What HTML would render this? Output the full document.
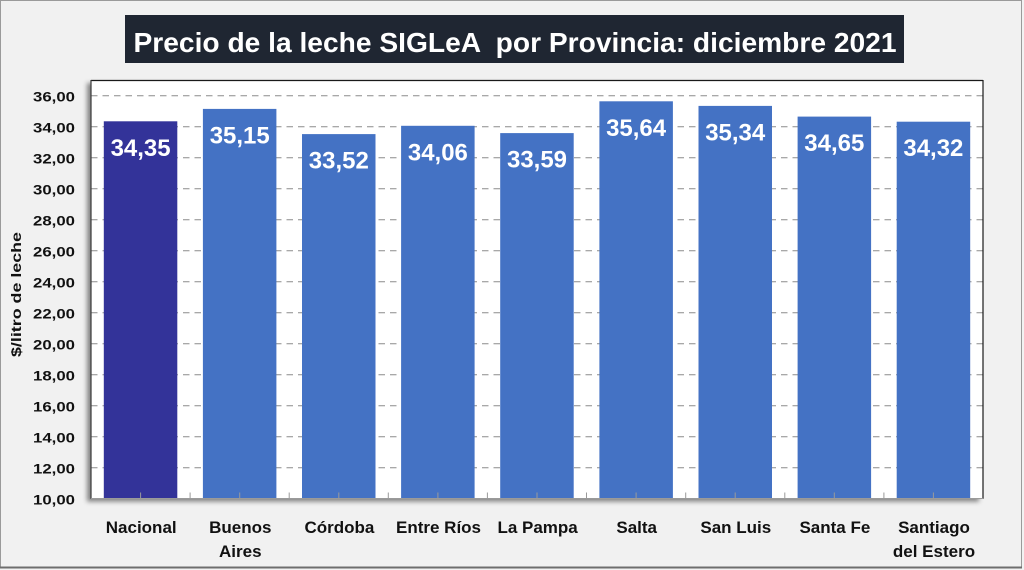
<!DOCTYPE html>
<html>
<head>
<meta charset="utf-8">
<style>
  html,body{margin:0;padding:0;background:#f2f2f2;}
  svg{display:block;}
  text{font-family:"Liberation Sans",sans-serif;}
</style>
</head>
<body>
<svg width="1024" height="570" viewBox="0 0 1024 570" xmlns="http://www.w3.org/2000/svg">
  <defs>
    <filter id="sh" x="-5%" y="-5%" width="110%" height="110%">
      <feDropShadow dx="-4" dy="3" stdDeviation="2.5" flood-color="#000" flood-opacity="0.45"/>
    </filter>
  </defs>
  <!-- outer frame -->
  <rect x="0" y="0" width="1024" height="570" fill="#f2f2f2"/>
  <rect x="0.5" y="0.5" width="1021" height="567" fill="#f1f1f1" stroke="#9a9a9a" stroke-width="1"/>
  <line x1="0" y1="567.5" x2="1022" y2="567.5" stroke="#6e6e6e" stroke-width="2"/>

  <!-- title -->
  <rect x="125" y="15" width="779" height="48" fill="#1f2632"/>
  <text x="515" y="52" font-size="28" font-weight="bold" fill="#ffffff" text-anchor="middle" textLength="763" lengthAdjust="spacingAndGlyphs" xml:space="preserve">Precio de la leche SIGLeA  por Provincia: diciembre 2021</text>

  <!-- plot area -->
  <rect x="91" y="80" width="892" height="418.7" fill="#ffffff" filter="url(#sh)"/>

  <!-- gridlines -->
  <g stroke="#8c8c8c" stroke-width="1" stroke-dasharray="6.5,5">
    <line x1="91" x2="983" y1="95.7" y2="95.7"/>
    <line x1="91" x2="983" y1="126.7" y2="126.7"/>
    <line x1="91" x2="983" y1="157.7" y2="157.7"/>
    <line x1="91" x2="983" y1="188.7" y2="188.7"/>
    <line x1="91" x2="983" y1="219.7" y2="219.7"/>
    <line x1="91" x2="983" y1="250.7" y2="250.7"/>
    <line x1="91" x2="983" y1="281.7" y2="281.7"/>
    <line x1="91" x2="983" y1="312.7" y2="312.7"/>
    <line x1="91" x2="983" y1="343.7" y2="343.7"/>
    <line x1="91" x2="983" y1="374.7" y2="374.7"/>
    <line x1="91" x2="983" y1="405.7" y2="405.7"/>
    <line x1="91" x2="983" y1="436.7" y2="436.7"/>
    <line x1="91" x2="983" y1="467.7" y2="467.7"/>
  </g>

  <!-- bars -->
  <g>
    <rect x="103.8" y="121.3" width="73.5" height="377.4" fill="#333399"/>
    <rect x="202.9" y="108.9" width="73.5" height="389.8" fill="#4472c4"/>
    <rect x="302.0" y="134.1" width="73.5" height="364.6" fill="#4472c4"/>
    <rect x="401.1" y="125.8" width="73.5" height="372.9" fill="#4472c4"/>
    <rect x="500.2" y="133.1" width="73.5" height="365.6" fill="#4472c4"/>
    <rect x="599.4" y="101.3" width="73.5" height="397.4" fill="#4472c4"/>
    <rect x="698.5" y="105.9" width="73.5" height="392.8" fill="#4472c4"/>
    <rect x="797.6" y="116.6" width="73.5" height="382.1" fill="#4472c4"/>
    <rect x="896.7" y="121.7" width="73.5" height="377.0" fill="#4472c4"/>
  </g>

  <!-- plot border -->
  <line x1="91" y1="80.5" x2="983" y2="80.5" stroke="#1a1a1a" stroke-width="1.2"/>
  <line x1="983" y1="80" x2="983" y2="498.7" stroke="#1a1a1a" stroke-width="1.2"/>
  <line x1="91" y1="80" x2="91" y2="498.7" stroke="#3a3a3a" stroke-width="1.2"/>
  <line x1="91" y1="498.5" x2="983" y2="498.5" stroke="#9a9a9a" stroke-width="1"/>

  <!-- bottom ticks -->
  <g stroke="#9a9a9a" stroke-width="1">
    <line x1="140.6" x2="140.6" y1="492.5" y2="498.5"/>
    <line x1="190.1" x2="190.1" y1="492.5" y2="498.5"/>
    <line x1="239.7" x2="239.7" y1="492.5" y2="498.5"/>
    <line x1="289.2" x2="289.2" y1="492.5" y2="498.5"/>
    <line x1="338.8" x2="338.8" y1="492.5" y2="498.5"/>
    <line x1="388.3" x2="388.3" y1="492.5" y2="498.5"/>
    <line x1="437.9" x2="437.9" y1="492.5" y2="498.5"/>
    <line x1="487.4" x2="487.4" y1="492.5" y2="498.5"/>
    <line x1="537.0" x2="537.0" y1="492.5" y2="498.5"/>
    <line x1="586.5" x2="586.5" y1="492.5" y2="498.5"/>
    <line x1="636.1" x2="636.1" y1="492.5" y2="498.5"/>
    <line x1="685.7" x2="685.7" y1="492.5" y2="498.5"/>
    <line x1="735.2" x2="735.2" y1="492.5" y2="498.5"/>
    <line x1="784.8" x2="784.8" y1="492.5" y2="498.5"/>
    <line x1="834.3" x2="834.3" y1="492.5" y2="498.5"/>
    <line x1="883.9" x2="883.9" y1="492.5" y2="498.5"/>
    <line x1="933.4" x2="933.4" y1="492.5" y2="498.5"/>
  </g>

  <!-- data labels -->
  <g font-size="24" font-weight="bold" fill="#ffffff" text-anchor="middle">
    <text x="140.6" y="155.8" textLength="60" lengthAdjust="spacingAndGlyphs">34,35</text>
    <text x="239.7" y="143.4" textLength="60" lengthAdjust="spacingAndGlyphs">35,15</text>
    <text x="338.8" y="168.6" textLength="60" lengthAdjust="spacingAndGlyphs">33,52</text>
    <text x="437.9" y="160.3" textLength="60" lengthAdjust="spacingAndGlyphs">34,06</text>
    <text x="537.0" y="167.6" textLength="60" lengthAdjust="spacingAndGlyphs">33,59</text>
    <text x="636.1" y="135.8" textLength="60" lengthAdjust="spacingAndGlyphs">35,64</text>
    <text x="735.2" y="140.4" textLength="60" lengthAdjust="spacingAndGlyphs">35,34</text>
    <text x="834.3" y="151.1" textLength="60" lengthAdjust="spacingAndGlyphs">34,65</text>
    <text x="933.4" y="156.2" textLength="60" lengthAdjust="spacingAndGlyphs">34,32</text>
  </g>

  <!-- y tick labels -->
  <g font-size="14" font-weight="bold" fill="#111111" text-anchor="end">
    <text x="75" y="101.7" textLength="42" lengthAdjust="spacingAndGlyphs">36,00</text>
    <text x="75" y="132.7" textLength="42" lengthAdjust="spacingAndGlyphs">34,00</text>
    <text x="75" y="163.7" textLength="42" lengthAdjust="spacingAndGlyphs">32,00</text>
    <text x="75" y="194.7" textLength="42" lengthAdjust="spacingAndGlyphs">30,00</text>
    <text x="75" y="225.7" textLength="42" lengthAdjust="spacingAndGlyphs">28,00</text>
    <text x="75" y="256.7" textLength="42" lengthAdjust="spacingAndGlyphs">26,00</text>
    <text x="75" y="287.7" textLength="42" lengthAdjust="spacingAndGlyphs">24,00</text>
    <text x="75" y="318.7" textLength="42" lengthAdjust="spacingAndGlyphs">22,00</text>
    <text x="75" y="349.7" textLength="42" lengthAdjust="spacingAndGlyphs">20,00</text>
    <text x="75" y="380.7" textLength="42" lengthAdjust="spacingAndGlyphs">18,00</text>
    <text x="75" y="411.7" textLength="42" lengthAdjust="spacingAndGlyphs">16,00</text>
    <text x="75" y="442.7" textLength="42" lengthAdjust="spacingAndGlyphs">14,00</text>
    <text x="75" y="473.7" textLength="42" lengthAdjust="spacingAndGlyphs">12,00</text>
    <text x="75" y="504.7" textLength="42" lengthAdjust="spacingAndGlyphs">10,00</text>
  </g>

  <!-- y axis title -->
  <text transform="translate(21,294.5) rotate(-90)" font-size="14" font-weight="bold" fill="#111111" text-anchor="middle" textLength="125" lengthAdjust="spacingAndGlyphs">$/litro de leche</text>

  <!-- category labels -->
  <g font-size="17" font-weight="bold" fill="#111111" text-anchor="middle">
    <text x="141.2" y="533">Nacional</text>
    <text x="240.3" y="533">Buenos</text>
    <text x="240.3" y="557">Aires</text>
    <text x="339.4" y="533">Córdoba</text>
    <text x="438.5" y="533">Entre Ríos</text>
    <text x="537.6" y="533">La Pampa</text>
    <text x="636.7" y="533">Salta</text>
    <text x="735.8" y="533">San Luis</text>
    <text x="834.9" y="533">Santa Fe</text>
    <text x="934.0" y="533">Santiago</text>
    <text x="934.0" y="557">del Estero</text>
  </g>
</svg>
</body>
</html>
